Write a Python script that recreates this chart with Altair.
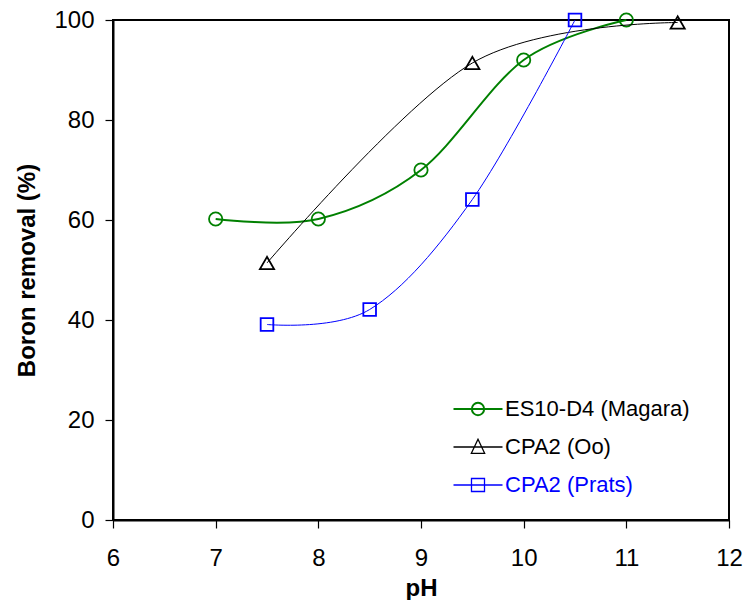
import altair as alt
import pandas as pd

FONT = "Liberation Sans"

series_names = ["ES10-D4 (Magara)", "CPA2 (Oo)", "CPA2 (Prats)"]
series_colors = ["#008000", "#000000", "#0000ff"]
series_shapes = ["circle", "triangle-up", "square"]
series_marker_sizes = [177, 200, 160]
series_line_widths = [2, 1, 1]

magara_ph = [7, 8, 9, 10, 11]
magara_removal = [60.2, 60.2, 70.0, 92.0, 100.0]
oo_ph = [7.5, 9.5, 11.5]
oo_removal = [51.4, 91.4, 99.5]
prats_ph = [7.5, 8.5, 9.5, 10.5]
prats_removal = [39.1, 42.1, 64.1, 100.0]

x_ticks = [6, 7, 8, 9, 10, 11, 12]
y_ticks = [0, 20, 40, 60, 80, 100]

# legend symbols: short line with the series marker on it
legend_paths = [
    "M-3.5,0L3.5,0M-0.88,0A0.88,0.88,0,1,0,0.88,0A0.88,0.88,0,1,0,-0.88,0",
    "M-3.5,0L3.5,0M0,-1.1L0.95,0.9L-0.95,0.9Z",
    "M-3.5,0L3.5,0M-0.93,-0.93L0.93,-0.93L0.93,0.93L-0.93,0.93Z",
]

rows = []
for name, xs, ys in [
    (series_names[0], magara_ph, magara_removal),
    (series_names[1], oo_ph, oo_removal),
    (series_names[2], prats_ph, prats_removal),
]:
    for xv, yv in zip(xs, ys):
        rows.append({"series": name, "pH": xv, "removal": yv})
df = pd.DataFrame(rows)

color_scale = alt.Scale(domain=series_names, range=series_colors)

x_enc = alt.X(
    "pH:Q",
    scale=alt.Scale(domain=[6, 12], nice=False, zero=False),
    axis=alt.Axis(
        values=x_ticks, title="pH", grid=False, tickSize=8, labelPadding=18,
        labelFontSize=24, titleFontSize=24, titleFontWeight="bold",
        titlePadding=6, format="d", labelFlush=False,
    ),
)
y_enc = alt.Y(
    "removal:Q",
    scale=alt.Scale(domain=[0, 100], nice=False),
    axis=alt.Axis(
        values=y_ticks, title="Boron removal (%)", grid=False, tickSize=8,
        labelPadding=11, labelFontSize=24, titleFontSize=24,
        titleFontWeight="bold", titlePadding=14, labelFlush=False,
    ),
)

base = alt.Chart(df)

legend_def = alt.Legend(
    title=None,
    orient="none",
    legendX=354,
    legendY=378,
    padding=0,
    labelFont=FONT,
    labelFontSize=22,
    labelLimit=400,
    labelColor={"expr": "datum.label === 'CPA2 (Prats)' ? '#0000ff' : '#000000'"},
    symbolSize=196,
    symbolStrokeWidth={"expr": "datum.label === 'ES10-D4 (Magara)' ? 2 : 1.3"},
    symbolOpacity=1,
    rowPadding=16,
    labelOffset=16,
)

# invisible layer that only carries the legend (placed first so its legend wins)
legend_layer = base.mark_point(opacity=0, filled=False).encode(
    x=x_enc, y=y_enc,
    color=alt.Color("series:N", scale=color_scale, legend=legend_def),
    shape=alt.Shape("series:N", scale=alt.Scale(domain=series_names, range=legend_paths), legend=legend_def),
)

layers = [legend_layer]
for name, shape, msize, lw in zip(series_names, series_shapes, series_marker_sizes, series_line_widths):
    sub = base.transform_filter(alt.datum.series == name)
    layers.append(
        sub.mark_line(interpolate="cardinal", strokeWidth=lw).encode(
            x=x_enc, y=y_enc,
            color=alt.Color("series:N", scale=color_scale),
        )
    )
    layers.append(
        sub.mark_point(shape=shape, size=msize, filled=False, strokeWidth=1.8, opacity=1).encode(
            x=x_enc, y=y_enc,
            color=alt.Color("series:N", scale=color_scale),
        )
    )

chart = (
    alt.layer(*layers)
    .properties(
        width=616,
        height=500,
        autosize=alt.AutoSizeParams(type="none"),
        padding={"left": 113, "top": 20, "right": 15, "bottom": 80},
        background="white",
    )
    .configure_view(stroke="black", strokeWidth=2)
    .configure_axis(
        labelFont=FONT, titleFont=FONT, labelColor="black", titleColor="black",
        domainColor="black", domainWidth=2, tickColor="black", tickWidth=1.2,
    )
    .configure_legend(labelFont=FONT)
)

chart.save("out.html", embed_options={"renderer": "svg", "actions": False})
